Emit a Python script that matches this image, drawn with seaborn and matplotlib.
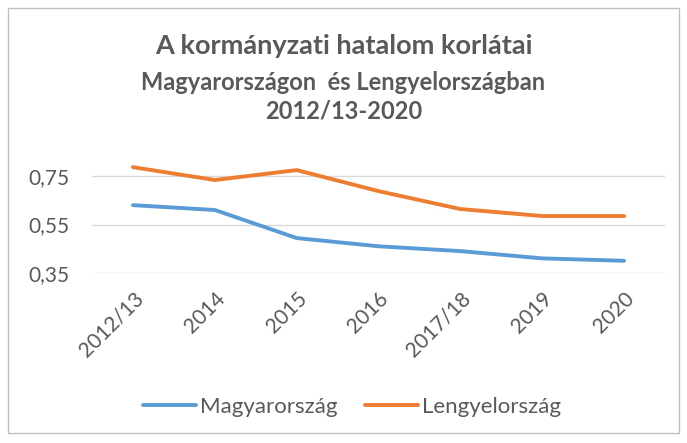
import matplotlib
matplotlib.use("Agg")
import matplotlib.pyplot as plt
import matplotlib.transforms as mtransforms
import seaborn as sns
import pandas as pd
from matplotlib.patches import Rectangle
from matplotlib.lines import Line2D

categories = ["2012/13", "2014", "2015", "2016", "2017/18", "2019", "2020"]
magyar = [0.63, 0.61, 0.494, 0.46, 0.44, 0.41, 0.40]
lengyel = [0.787, 0.734, 0.775, 0.688, 0.614, 0.585, 0.585]
series_names = ["Magyarország", "Lengyelország"]
yticks = [0.35, 0.55, 0.75]
ytick_labels = ["0,35", "0,55", "0,75"]

df = pd.DataFrame({
    "x": list(range(len(categories))) * 2,
    "value": magyar + lengyel,
    "series": [series_names[0]] * len(categories) + [series_names[1]] * len(categories),
})

sns.set_theme(style="white")
plt.rcParams['font.family'] = ['Lato', 'DejaVu Sans']
textc = "#595959"
colors = {series_names[0]: "#5B9BD5", series_names[1]: "#ED7D31"}

fig = plt.figure(figsize=(6.87, 4.43), dpi=100)
ax = fig.add_axes([0.134, 0.384, 0.834, 0.273])

sns.lineplot(data=df, x="x", y="value", hue="series", palette=colors,
             linewidth=2.8, ax=ax, legend=False)

ax.set_xlim(-0.5, len(categories) - 0.5)
ax.set_ylim(0.35, 0.85)
ax.set_yticks(yticks)
ax.set_yticklabels(ytick_labels, color=textc, fontsize=15)
ax.set_xticks(range(len(categories)))
ax.set_xticklabels(categories, rotation=45, ha="right", va="center",
                   rotation_mode="anchor", color=textc, fontsize=15)
ax.tick_params(axis="y", length=0, pad=16)
ax.tick_params(axis="x", length=0, pad=16)
offset = mtransforms.ScaledTranslation(7 / 100, 0, fig.dpi_scale_trans)
for lbl in ax.get_xticklabels():
    lbl.set_transform(lbl.get_transform() + offset)
ax.grid(axis="y", color="#D9D9D9", linewidth=1)
ax.set_axisbelow(True)
for s in ax.spines.values():
    s.set_visible(False)
ax.set_xlabel("")
ax.set_ylabel("")

fig.text(0.5, 1 - 46 / 443, "A kormányzati hatalom korlátai", ha="center", va="center",
         fontsize=19.5, fontweight="bold", color=textc)
fig.text(0.5, 1 - 82 / 443, "Magyarországon  és Lengyelországban", ha="center", va="center",
         fontsize=17, fontweight="bold", color=textc)
fig.text(0.5, 1 - 111 / 443, "2012/13-2020", ha="center", va="center",
         fontsize=17, fontweight="bold", color=textc)

handles = [Line2D([], [], color=colors[n], linewidth=2.8) for n in series_names]
fig.legend(handles, series_names, loc="center", bbox_to_anchor=(352 / 687, 1 - 407 / 443),
           ncol=2, frameon=False, fontsize=16, labelcolor=textc,
           handlelength=2.4, handletextpad=0.2, columnspacing=1.2)

fig.patches.append(Rectangle((8 / 687, 1 - 433 / 443), 671 / 687, 425 / 443,
                             transform=fig.transFigure, fill=False,
                             edgecolor="#BFBFBF", linewidth=1))

fig.savefig("out.png", dpi=100, facecolor="white")
